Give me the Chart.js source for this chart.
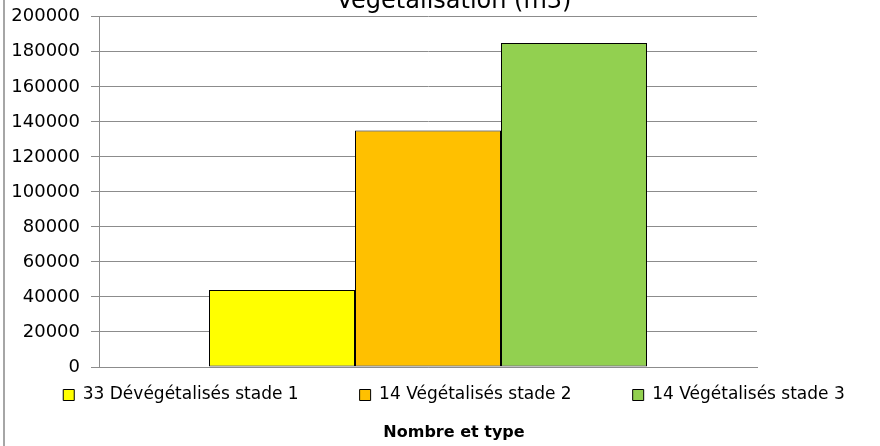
<!DOCTYPE html>
<html>
<head>
<meta charset="utf-8">
<title>Végétalisation (m3)</title>
<script src="https://cdn.jsdelivr.net/npm/chart.js@4/dist/chart.umd.min.js"></script>
<style>
  html, body { margin: 0; padding: 0; background: #fff; }
  body { position: relative; width: 880px; height: 446px; overflow: hidden; }
  /* bord gauche du cadre du graphique (le reste est hors champ) */
  #frame { position: absolute; left: 3px; top: 0; width: 2px; height: 446px; background: #a6a6a6; }
  #chart { position: absolute; left: -3px; top: -20px; }
</style>
</head>
<body>
<div id="frame"></div>
<canvas id="chart" width="914" height="466"></canvas>
<script>
'use strict';

/* ---- données ---- */
const categories  = [''];
const seriesNames = ['33 Dévégétalisés stade 1', '14 Végétalisés stade 2', '14 Végétalisés stade 3'];
const seriesVals  = [[44000], [135000], [185000]];
const seriesCols  = ['#FFFF00', '#FFC000', '#92D050'];
const yTicksMin   = 0;
const yTicksMax   = 200000;
const yTicksStep  = 20000;

const GRID = '#8c8c8c';
Chart.defaults.font.family = "'DejaVu Sans', sans-serif";
Chart.defaults.color = '#000';

// 3 barres de 146 px dans une zone de 658 px -> bords sur des pixels entiers
const datasets = seriesNames.map((name, i) => ({
  label: name,
  data: seriesVals[i],
  backgroundColor: seriesCols[i],
  borderColor: '#000',
  borderWidth: 1,
  borderSkipped: false,
  categoryPercentage: 438 / 658,
  barPercentage: 1.0,
}));

new Chart(document.getElementById('chart'), {
  type: 'bar',
  data: { labels: categories, datasets: datasets },
  options: {
    responsive: false,
    devicePixelRatio: 1,
    animation: false,
    layout: { padding: 0 },
    plugins: {
      tooltip: { enabled: false },
      title: {
        display: true,
        text: 'Végétalisation (m3)',
        color: '#000',
        font: { size: 24, weight: 'normal', lineHeight: 1.2 },
        padding: { top: 7, bottom: 1 },
      },
      legend: {
        position: 'bottom',
        title: { display: true, text: '', font: { size: 10, lineHeight: 1 }, padding: { top: -51.5, bottom: 0 } },
        labels: {
          boxWidth: 11,
          boxHeight: 11,
          padding: 61,
          color: '#000',
          font: { size: 17 },
          generateLabels: chart => chart.data.datasets.map((ds, i) => ({
            text: ds.label,
            fillStyle: ds.backgroundColor,
            strokeStyle: '#000',
            lineWidth: 1,
            datasetIndex: i,
          })),
        },
      },
      subtitle: {
        display: true,
        position: 'bottom',
        text: 'Nombre et type',
        color: '#000',
        font: { size: 16, weight: 'bold', lineHeight: 1.2 },
        padding: { top: 10, bottom: 3.3 },
      },
    },
    scales: {
      x: {
        grid: { display: false },
        border: { display: true, color: GRID },
        ticks: { display: false },
        afterFit: s => { s.height = 0; },
      },
      y: {
        min: yTicksMin,
        max: yTicksMax,
        ticks: {
          stepSize: yTicksStep,
          padding: 11,
          color: '#000',
          font: { size: 18 },
          callback: v => String(v),
        },
        grid: { color: GRID, lineWidth: 1, tickLength: 8 },
        border: { color: GRID },
        afterFit: s => { s.width = 102; },
      },
      // axe vide à droite : réserve la marge du cadre
      yRight: {
        position: 'right',
        grid: { display: false },
        border: { display: false },
        ticks: { display: false },
        afterFit: s => { s.width = 154; },
      },
    },
  },
});
</script>
</body>
</html>
